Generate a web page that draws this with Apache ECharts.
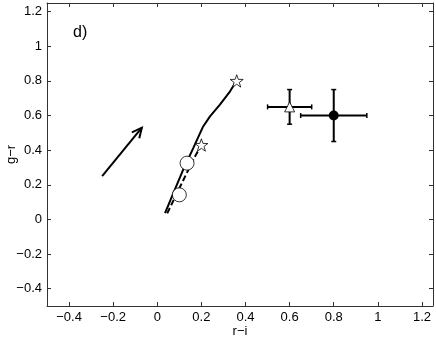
<!DOCTYPE html>
<html>
<head>
<meta charset="utf-8">
<script src="https://cdn.jsdelivr.net/npm/echarts@6/dist/echarts.min.js"></script>
<style>
html, body { margin: 0; padding: 0; background: #fff; }
#chart { width: 436px; height: 340px; }
</style>
</head>
<body>
<div id="chart"></div>
<script>
// data
var xTicks = [-0.4, -0.2, 0, 0.2, 0.4, 0.6, 0.8, 1, 1.2];
var yTicks = [-0.4, -0.2, 0, 0.2, 0.4, 0.6, 0.8, 1, 1.2];

var solidX = [0.035, 0.117, 0.163, 0.208, 0.239, 0.284, 0.330, 0.360];
var solidY = [0.036, 0.286, 0.412, 0.537, 0.595, 0.663, 0.740, 0.803];

var dashX = [0.045, 0.100, 0.163, 0.200];
var dashY = [0.035, 0.180, 0.345, 0.430];

var starPts = [[0.36, 0.80], [0.20, 0.43]];
var circlePts = [[0.135, 0.325], [0.10, 0.142]];

// x, y, xerr, yerr
var triErr = [0.60, 0.65, 0.10, 0.10];
var dotErr = [0.80, 0.60, 0.15, 0.15];

var arrowFrom = [-0.25, 0.25];
var arrowTo = [-0.07, 0.53];

var FONT = "Liberation Sans, Arial, sans-serif";
var STAR = 'path://M0,-10 L2.35,-3.24 L9.51,-3.09 L3.8,1.24 L5.88,8.09 L0,4 L-5.88,8.09 L-3.8,1.24 L-9.51,-3.09 L-2.35,-3.24Z';

function zip(a, b){
    var out = [];
    for(var i = 0; i < a.length; i++){
        out.push([a[i], b[i]]);
    }
    return out;
}

function fmt(v){
    var s = String(Math.round(v * 10) / 10);
    return s.replace('-', '\u2212');
}

var axisLine = { show: true, onZero: false, lineStyle: { color: '#333', width: 1 } };
var axisTick = { show: true, inside: true, length: 4, lineStyle: { color: '#333' } };

function xAx(pos, labels){
    return {
        type: 'value', position: pos, min: -0.5, max: 1.25,
        axisLine: axisLine, splitLine: { show: false },
        axisLabel: {
            show: labels, margin: 5, color: '#000', fontSize: 13, fontFamily: FONT,
            customValues: xTicks, formatter: fmt
        },
        axisTick: Object.assign({ customValues: xTicks }, axisTick),
        name: labels ? 'r\u2212i' : '', nameLocation: 'middle', nameGap: 19,
        nameMoveOverlap: false,
        nameTextStyle: { color: '#000', fontSize: 13, fontFamily: FONT }
    };
}

function yAx(pos, labels){
    return {
        type: 'value', position: pos, min: -0.5, max: 1.25,
        axisLine: axisLine, splitLine: { show: false },
        axisLabel: {
            show: labels, margin: 5, color: '#000', fontSize: 13, fontFamily: FONT,
            customValues: yTicks, formatter: fmt
        },
        axisTick: Object.assign({ customValues: yTicks }, axisTick),
        name: labels ? 'g\u2212r' : '', nameLocation: 'middle', nameGap: 29,
        nameMoveOverlap: false,
        nameTextStyle: { color: '#000', fontSize: 13, fontFamily: FONT }
    };
}

function renderErr(params, api){
    var x = api.value(0), y = api.value(1), ex = api.value(2), ey = api.value(3);
    var l = api.coord([x - ex, y]), r = api.coord([x + ex, y]);
    var t = api.coord([x, y + ey]), b = api.coord([x, y - ey]);
    var c = 2.5;
    var st = { stroke: '#000', lineWidth: 2 };
    var capSt = { stroke: '#000', lineWidth: 1.5 };
    return {
        type: 'group',
        children: [
            { type: 'line', shape: { x1: l[0], y1: l[1], x2: r[0], y2: r[1] }, style: st },
            { type: 'line', shape: { x1: t[0], y1: t[1], x2: b[0], y2: b[1] }, style: st },
            { type: 'line', shape: { x1: l[0], y1: l[1] - c, x2: l[0], y2: l[1] + c }, style: capSt },
            { type: 'line', shape: { x1: r[0], y1: r[1] - c, x2: r[0], y2: r[1] + c }, style: capSt },
            { type: 'line', shape: { x1: t[0] - c, y1: t[1], x2: t[0] + c, y2: t[1] }, style: capSt },
            { type: 'line', shape: { x1: b[0] - c, y1: b[1], x2: b[0] + c, y2: b[1] }, style: capSt }
        ]
    };
}

function renderArrow(params, api){
    var p0 = api.coord([api.value(0), api.value(1)]);
    var p1 = api.coord([api.value(2), api.value(3)]);
    var ang = Math.atan2(p1[1] - p0[1], p1[0] - p0[0]);
    var len = 11, spread = 0.45;
    var a1 = [p1[0] - len * Math.cos(ang - spread), p1[1] - len * Math.sin(ang - spread)];
    var a2 = [p1[0] - len * Math.cos(ang + spread), p1[1] - len * Math.sin(ang + spread)];
    var st = { stroke: '#000', lineWidth: 2, fill: null };
    return {
        type: 'group',
        children: [
            { type: 'line', shape: { x1: p0[0], y1: p0[1], x2: p1[0], y2: p1[1] }, style: st },
            { type: 'polyline', shape: { points: [a1, p1, a2] }, style: st }
        ]
    };
}

var chart = echarts.init(document.getElementById('chart'));
chart.setOption({
    animation: false,
    backgroundColor: '#fff',
    title: {
        text: 'd)', left: 68, top: 20,
        textStyle: { fontSize: 16, fontWeight: 'normal', color: '#000', fontFamily: FONT }
    },
    grid: { left: 47, right: 3, top: 3, bottom: 34, outerBoundsMode: 'none', containLabel: false },
    xAxis: [xAx('bottom', true), xAx('top', false)],
    yAxis: [yAx('left', true), yAx('right', false)],
    series: [
        {
            type: 'custom', renderItem: renderArrow, z: 2,
            data: [[arrowFrom[0], arrowFrom[1], arrowTo[0], arrowTo[1]]]
        },
        {
            type: 'line', data: zip(dashX, dashY), showSymbol: false, z: 2,
            lineStyle: { color: '#000', width: 2, type: [6, 3] }
        },
        {
            type: 'line', data: zip(solidX, solidY), showSymbol: false, smooth: false, z: 2,
            lineStyle: { color: '#000', width: 2 }
        },
        {
            type: 'scatter', data: circlePts, symbol: 'circle', symbolSize: 14, z: 3,
            itemStyle: { color: '#fff', borderColor: '#000', borderWidth: 0.8, opacity: 1 }
        },
        {
            type: 'scatter', data: starPts, symbol: STAR, symbolSize: 13, symbolKeepAspect: true, z: 3,
            itemStyle: { color: '#fff', borderColor: '#000', borderWidth: 0.8, opacity: 1 }
        },
        {
            type: 'custom', renderItem: renderErr, z: 2,
            data: [triErr, dotErr]
        },
        {
            type: 'scatter', data: [[triErr[0], triErr[1]]], symbol: 'triangle', symbolSize: 10, z: 3,
            itemStyle: { color: '#fff', borderColor: '#000', borderWidth: 0.8, opacity: 1 }
        },
        {
            type: 'scatter', data: [[dotErr[0], dotErr[1]]], symbol: 'circle', symbolSize: 10, z: 3,
            itemStyle: { color: '#000', opacity: 1 }
        }
    ]
});
</script>
</body>
</html>
